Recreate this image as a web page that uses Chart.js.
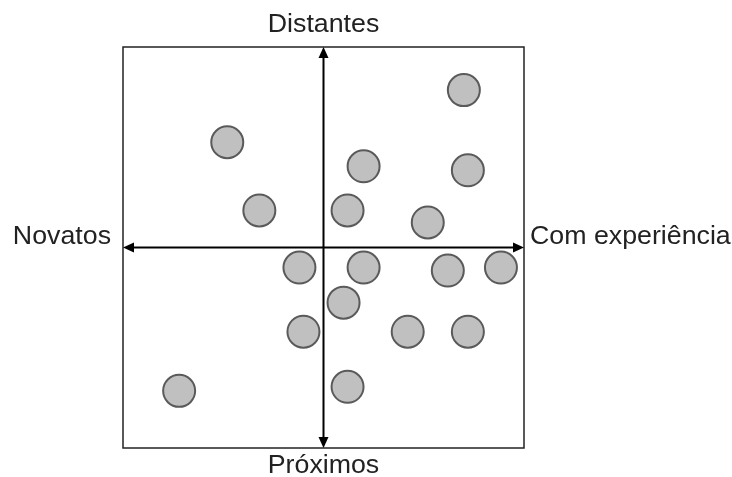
<!DOCTYPE html>
<html>
<head>
<meta charset="utf-8">
<script src="https://cdn.jsdelivr.net/npm/chart.js@4"></script>
<style>
  body { margin: 0; background: #fff; }
  #wrap { width: 732px; height: 477px; }
</style>
</head>
<body>
<div id="wrap"><canvas id="chart" width="732" height="477"></canvas></div>
<script>
// posições dos círculos (0..400 em cada eixo, centro em 200)
var xValues = [340, 104, 240, 344, 136, 224, 304, 176, 240, 324, 377, 220, 180, 284, 344, 56, 224];
var yValues = [357, 305, 281, 277, 237, 237, 225, 180, 180, 177, 180, 145, 116, 116, 116, 57, 61];

var labelTop = 'Distantes';
var labelBottom = 'Próximos';
var labelLeft = 'Novatos';
var labelRight = 'Com experiência';

var points = xValues.map(function (x, i) {
    return { x: x, y: yValues[i] };
});

// desenha a moldura, os eixos com setas e os rótulos
var quadrantPlugin = {
    id: 'quadrant',
    afterDatasetsDraw: function (chart) {
        var ctx = chart.ctx;
        var a = chart.chartArea;
        var cx = chart.scales.x.getPixelForValue(200);
        var cy = chart.scales.y.getPixelForValue(200);
        ctx.save();
        ctx.strokeStyle = '#222';
        ctx.lineWidth = 1.5;
        ctx.strokeRect(a.left, a.top, a.right - a.left, a.bottom - a.top);

        ctx.strokeStyle = '#000';
        ctx.fillStyle = '#000';
        ctx.lineWidth = 2;
        var h = 11, w = 5;
        ctx.beginPath();
        ctx.moveTo(cx, a.top + h); ctx.lineTo(cx, a.bottom - h);
        ctx.moveTo(a.left + h, cy); ctx.lineTo(a.right - h, cy);
        ctx.stroke();
        function arrow(x, y, dx, dy) {
            ctx.beginPath();
            ctx.moveTo(x, y);
            ctx.lineTo(x - dx * h - dy * w, y - dy * h - dx * w);
            ctx.lineTo(x - dx * h + dy * w, y - dy * h + dx * w);
            ctx.closePath();
            ctx.fill();
        }
        arrow(cx, a.top, 0, -1);
        arrow(cx, a.bottom, 0, 1);
        arrow(a.left, cy, -1, 0);
        arrow(a.right, cy, 1, 0);

        // texto um pouco esticado na horizontal, como no original
        var sx = 1.07;
        function label(text, x, y, align) {
            ctx.save();
            ctx.translate(x, y);
            ctx.scale(sx, 1);
            ctx.textAlign = align;
            ctx.fillText(text, 0, 0);
            ctx.restore();
        }
        ctx.fillStyle = '#222';
        ctx.font = '25px "Liberation Sans", Arial, sans-serif';
        ctx.textBaseline = 'middle';
        label(labelTop, cx, 25, 'center');
        label(labelBottom, cx, 466, 'center');
        label(labelLeft, a.left - 12, cy - 10, 'right');
        label(labelRight, a.right + 6, cy - 10, 'left');
        ctx.restore();
    }
};

new Chart(document.getElementById('chart'), {
    type: 'scatter',
    data: {
        datasets: [{
            data: points,
            pointRadius: 16,
            pointBackgroundColor: '#c0c0c0',
            pointBorderColor: '#5a5a5a',
            pointBorderWidth: 2
        }]
    },
    options: {
        responsive: false,
        animation: false,
        layout: { padding: { left: 123, right: 208, top: 47, bottom: 29 } },
        plugins: { legend: { display: false }, tooltip: { enabled: false } },
        scales: {
            x: { display: false, min: 0, max: 400 },
            y: { display: false, min: 0, max: 400 }
        }
    },
    plugins: [quadrantPlugin]
});
</script>
</body>
</html>
